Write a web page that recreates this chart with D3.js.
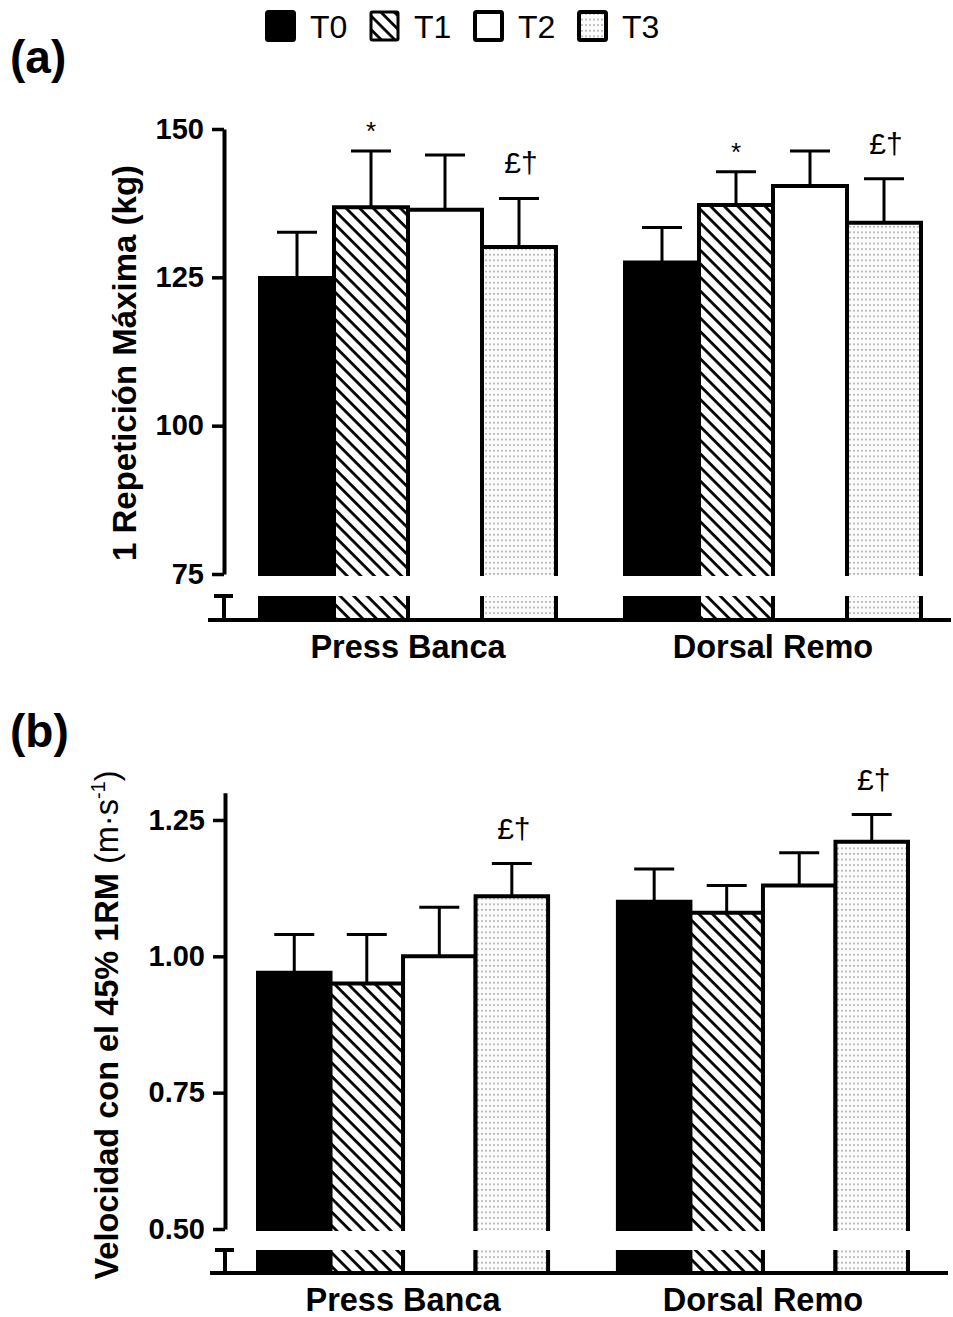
<!DOCTYPE html>
<html>
<head>
<meta charset="utf-8">
<script src="https://cdn.jsdelivr.net/npm/d3@7"></script>
<style>
  body { margin: 0; background: #fff; }
  svg { display: block; }
</style>
</head>
<body>
<svg id="chart" width="953" height="1317"></svg>
<script>
// Groups and time points
const categories = ["Press Banca", "Dorsal Remo"];
const series = ["T0", "T1", "T2", "T3"];

// (a) 1RM, kg: mean and SD per time point
const rmPressMean  = [124.9, 136.8, 136.4, 130.1];
const rmPressSD    = [7.7, 9.5, 9.2, 8.2];
const rmDorsalMean = [127.5, 137.2, 140.4, 134.2];
const rmDorsalSD   = [5.9, 5.6, 5.9, 7.4];
const rmPressMarks  = ["", "*", "", "£†"];
const rmDorsalMarks = ["", "*", "", "£†"];
const rmTicks = [75, 100, 125, 150];

// (b) velocity at 45% 1RM, m·s-1: mean and SD per time point
const velPressMean  = [0.97, 0.95, 1.00, 1.11];
const velPressSD    = [0.07, 0.09, 0.09, 0.06];
const velDorsalMean = [1.10, 1.08, 1.13, 1.21];
const velDorsalSD   = [0.06, 0.05, 0.06, 0.05];
const velPressMarks  = ["", "", "", "£†"];
const velDorsalMarks = ["", "", "", "£†"];
const velTicks = [0.50, 0.75, 1.00, 1.25];

const FONT = "'Liberation Sans', Arial, Helvetica, sans-serif";
const svg = d3.select("#chart");

// Fill patterns
const defs = svg.append("defs");
const HS = 9.6;
const hatch = defs.append("pattern")
  .attr("id", "hatch").attr("patternUnits", "userSpaceOnUse")
  .attr("width", HS).attr("height", HS)
  .attr("patternTransform", "rotate(-45)");
hatch.append("rect").attr("width", HS).attr("height", HS).attr("fill", "#fff");
hatch.append("line").attr("x1", 1.5).attr("y1", 0).attr("x2", 1.5).attr("y2", HS)
  .attr("stroke", "#000").attr("stroke-width", 2.8);

const dots = defs.append("pattern")
  .attr("id", "dots").attr("patternUnits", "userSpaceOnUse")
  .attr("width", 4).attr("height", 5.6);
dots.append("rect").attr("width", 4).attr("height", 5.6).attr("fill", "#fbfbfb");
dots.append("rect").attr("x", 1).attr("y", 2).attr("width", 2).attr("height", 1.4).attr("fill", "#a9a9a9");

const fills = ["#000", "url(#hatch)", "#fff", "url(#dots)"];

// Legend
const legend = svg.append("g").attr("class", "legend");
series.forEach((s, i) => {
  const gx = 265 + i * 104;
  legend.append("rect")
    .attr("x", gx + 2).attr("y", 12).attr("width", 27).attr("height", 28)
    .attr("fill", fills[i]).attr("stroke", "#000")
    .attr("stroke-width", i === 1 ? 3 : 4).attr("rx", 1.5);
  legend.append("text")
    .attr("x", gx + 45).attr("y", 38)
    .attr("font-family", FONT).attr("font-size", 32)
    .text(s);
});

function drawPanel(cfg) {
  const g = svg.append("g");
  const y = d3.scaleLinear().domain(cfg.domain).range(cfg.yRange);
  const x0 = d3.scaleBand().domain(categories).range(cfg.xRange).paddingInner(cfg.padInner).paddingOuter(0);
  const x1 = d3.scaleBand().domain(series).range([0, x0.bandwidth()]);
  const yMinPx = y(cfg.domain[0]);

  // panel letter
  g.append("text")
    .attr("x", 10).attr("y", cfg.letterY)
    .attr("font-family", FONT).attr("font-size", 46).attr("font-weight", "bold")
    .text(cfg.letter);

  // bars
  categories.forEach((c, ci) => {
    const means = cfg.means[ci], sds = cfg.sds[ci], marks = cfg.marks[ci];
    series.forEach((s, si) => {
      const bx = x0(c) + x1(s), bw = x1.bandwidth();
      const top = y(means[si]);
      const bottom = yMinPx + 2;
      // upper segment
      g.append("rect").attr("x", bx).attr("y", top).attr("width", bw).attr("height", bottom - top)
        .attr("fill", fills[si]);
      g.append("path")
        .attr("d", `M${bx},${bottom}V${top}H${bx + bw}V${bottom}`)
        .attr("fill", "none").attr("stroke", "#000").attr("stroke-width", 4);
      // lower segment below the break
      g.append("rect").attr("x", bx).attr("y", cfg.breakTop).attr("width", bw).attr("height", cfg.baseline - cfg.breakTop)
        .attr("fill", fills[si]);
      g.append("path")
        .attr("d", `M${bx},${cfg.breakTop}V${cfg.baseline}M${bx + bw},${cfg.breakTop}V${cfg.baseline}`)
        .attr("fill", "none").attr("stroke", "#000").attr("stroke-width", 4);
      // error bar (upper)
      const cx = bx + bw / 2;
      const et = y(means[si] + sds[si]);
      g.append("line").attr("x1", cx).attr("x2", cx).attr("y1", top).attr("y2", et)
        .attr("stroke", "#000").attr("stroke-width", 3);
      g.append("line").attr("x1", cx - 20).attr("x2", cx + 20).attr("y1", et).attr("y2", et)
        .attr("stroke", "#000").attr("stroke-width", 3);
      // significance marks
      if (marks[si]) {
        const star = marks[si] === "*";
        g.append("text")
          .attr("x", cx + (star ? 0 : 2)).attr("y", et - (star ? 11 : 25))
          .attr("text-anchor", "middle")
          .attr("font-family", FONT).attr("font-size", star ? 26 : 30)
          .text(marks[si]);
      }
    });
    // category label
    g.append("text")
      .attr("x", x0(c) + x0.bandwidth() / 2).attr("y", cfg.catY)
      .attr("text-anchor", "middle")
      .attr("font-family", FONT).attr("font-size", 32.5).attr("font-weight", "bold")
      .text(c);
  });

  // y axis (upper part)
  const axis = d3.axisLeft(y).tickValues(cfg.ticks).tickSize(12).tickSizeOuter(0).tickPadding(8)
    .tickFormat(cfg.format);
  const ag = g.append("g").attr("transform", `translate(${cfg.axisX},0)`).call(axis);
  ag.select(".domain").attr("stroke-width", 4).attr("stroke", "#000");
  ag.selectAll(".tick line").attr("stroke-width", 3.5).attr("stroke", "#000");
  ag.selectAll(".tick text")
    .attr("font-family", FONT).attr("font-size", 29).attr("font-weight", "bold").attr("fill", "#000");

  // y axis stub below the break
  g.append("path")
    .attr("d", `M${cfg.axisX - 10},${cfg.breakTop}H${cfg.axisX + 9}M${cfg.axisX},${cfg.breakTop}V${cfg.baseline}`)
    .attr("fill", "none").attr("stroke", "#000").attr("stroke-width", 4);

  // x baseline
  g.append("line")
    .attr("x1", cfg.baseX[0]).attr("x2", cfg.baseX[1])
    .attr("y1", cfg.baseline).attr("y2", cfg.baseline)
    .attr("stroke", "#000").attr("stroke-width", 4);

  // y title
  const t = g.append("text")
    .attr("transform", `translate(${cfg.titleX},${cfg.titleY}) rotate(-90)`)
    .attr("text-anchor", "middle")
    .attr("font-family", FONT).attr("font-size", cfg.titleSize);
  cfg.title(t);
}

drawPanel({
  letter: "(a)", letterY: 73,
  domain: [75, 150], yRange: [574, 129],
  xRange: [260, 921], padInner: 0.189,
  axisX: 224, breakTop: 596, baseline: 620, baseX: [208, 951],
  ticks: rmTicks, format: d3.format("d"),
  means: [rmPressMean, rmDorsalMean], sds: [rmPressSD, rmDorsalSD], marks: [rmPressMarks, rmDorsalMarks],
  catY: 658,
  titleX: 136, titleY: 363, titleSize: 33,
  title: t => t.append("tspan").attr("font-weight", "bold").text("1 Repetición Máxima (kg)")
});

drawPanel({
  letter: "(b)", letterY: 747,
  domain: [0.5, 1.3], yRange: [1229, 792.7],
  xRange: [258, 908], padInner: 0.194,
  axisX: 225, breakTop: 1250, baseline: 1273, baseX: [210, 948],
  ticks: velTicks, format: d3.format(".2f"),
  means: [velPressMean, velDorsalMean], sds: [velPressSD, velDorsalSD], marks: [velPressMarks, velDorsalMarks],
  catY: 1311,
  titleX: 118, titleY: 1025, titleSize: 32.5,
  title: t => {
    t.append("tspan").attr("font-weight", "bold").text("Velocidad con el 45% 1RM");
    t.append("tspan").text(" (m·s");
    t.append("tspan").attr("font-size", 20).attr("dy", -13).text("-1");
    t.append("tspan").attr("dy", 13).text(")");
  }
});
</script>
</body>
</html>
